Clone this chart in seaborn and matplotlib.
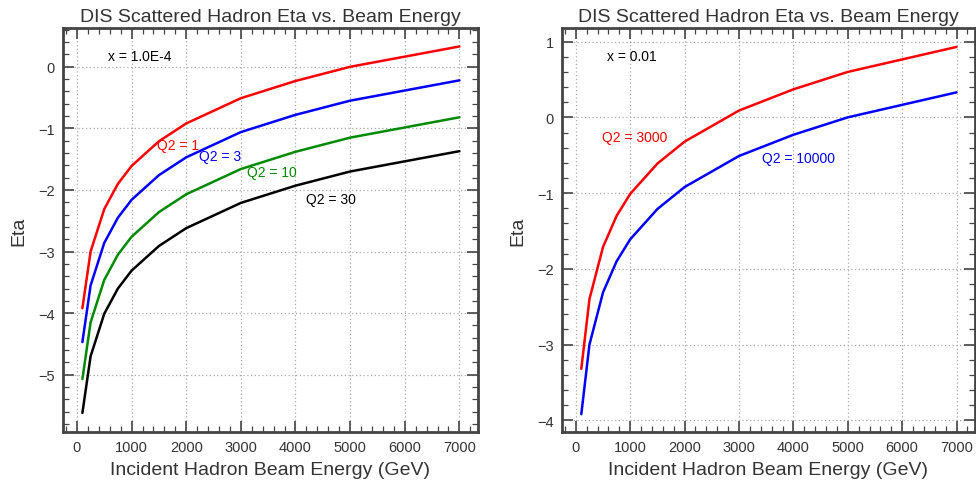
import numpy as np
import pandas as pd
import matplotlib
matplotlib.use("Agg")
import matplotlib.pyplot as plt
import seaborn as sns
from matplotlib.ticker import MultipleLocator

# Beam energies (GeV)
energy = [100, 250, 500, 750, 1000, 1500, 2000, 3000, 4000, 5000, 7000]

# x = 1.0E-4 panel
eta_q2_1 = [-3.92, -3.00, -2.31, -1.90, -1.61, -1.21, -0.92, -0.51, -0.23, 0.00, 0.33]
eta_q2_3 = [-4.47, -3.55, -2.86, -2.45, -2.16, -1.76, -1.47, -1.06, -0.78, -0.55, -0.22]
eta_q2_10 = [-5.07, -4.15, -3.46, -3.05, -2.76, -2.36, -2.07, -1.66, -1.38, -1.15, -0.82]
eta_q2_30 = [-5.62, -4.70, -4.01, -3.60, -3.31, -2.91, -2.62, -2.21, -1.93, -1.70, -1.37]

# x = 0.01 panel
eta_q2_3000 = [-3.32, -2.40, -1.71, -1.30, -1.01, -0.61, -0.32, 0.09, 0.37, 0.60, 0.93]
eta_q2_10000 = [-3.92, -3.00, -2.31, -1.90, -1.61, -1.21, -0.92, -0.51, -0.23, 0.00, 0.33]

left_labels = ["Q2 = 1", "Q2 = 3", "Q2 = 10", "Q2 = 30"]
right_labels = ["Q2 = 3000", "Q2 = 10000"]

def long_df(series, labels):
    rows = []
    for lab, vals in zip(labels, series):
        for e, v in zip(energy, vals):
            rows.append({"E": e, "eta": v, "series": lab})
    return pd.DataFrame(rows)

df_left = long_df([eta_q2_1, eta_q2_3, eta_q2_10, eta_q2_30], left_labels)
df_right = long_df([eta_q2_3000, eta_q2_10000], right_labels)

sns.set_style("ticks")
plt.rcParams['font.family'] = ['Liberation Sans', 'DejaVu Sans']

fig = plt.figure(figsize=(9.76, 4.89), dpi=100)
ax1 = fig.add_axes([63/976, 56/489, 415/976, 404/489])
ax2 = fig.add_axes([562/976, 56/489, 413/976, 404/489])

green = "#008a00"
pal_left = {"Q2 = 1": "#ff0000", "Q2 = 3": "#0000ff", "Q2 = 10": green, "Q2 = 30": "#000000"}
pal_right = {"Q2 = 3000": "#ff0000", "Q2 = 10000": "#0000ff"}

sns.lineplot(data=df_left, x="E", y="eta", hue="series", palette=pal_left,
             ax=ax1, linewidth=1.8, legend=False)
sns.lineplot(data=df_right, x="E", y="eta", hue="series", palette=pal_right,
             ax=ax2, linewidth=1.8, legend=False)

frame = "#444444"
for ax, ylim in [(ax1, (-5.93, 0.63)), (ax2, (-4.155, 1.18))]:
    ax.set_xlim(-255, 7340)
    ax.set_ylim(*ylim)
    ax.xaxis.set_major_locator(MultipleLocator(1000))
    ax.xaxis.set_minor_locator(MultipleLocator(200))
    ax.yaxis.set_major_locator(MultipleLocator(1))
    ax.yaxis.set_minor_locator(MultipleLocator(0.2))
    ax.tick_params(which="both", direction="in", top=True, right=True,
                   color=frame, labelsize=10.5, labelcolor="#333333", pad=6)
    ax.tick_params(which="major", length=8, width=1.2)
    ax.tick_params(which="minor", length=4, width=0.9)
    ax.grid(True, which="major", linestyle=(0, (1, 2)), color="#aaaaaa", linewidth=0.9)
    for sp in ax.spines.values():
        sp.set_color(frame)
        sp.set_linewidth(2)
    ax.set_xlabel("Incident Hadron Beam Energy (GeV)", fontsize=14, color="#333333", labelpad=5)
    ax.set_ylabel("Eta", fontsize=14, color="#333333", labelpad=8)
    ax.set_title("DIS Scattered Hadron Eta vs. Beam Energy", fontsize=14, color="#333333", pad=5)

ax1.text(568, 0.18, "x = 1.0E-4", fontsize=10, color="black", va="center")
ax1.text(1465, -1.27, "Q2 = 1", fontsize=10, color="#ff0000", va="center")
ax1.text(2235, -1.45, "Q2 = 3", fontsize=10, color="#0000ff", va="center")
ax1.text(3114, -1.71, "Q2 = 10", fontsize=10, color=green, va="center")
ax1.text(4194, -2.14, "Q2 = 30", fontsize=10, color="black", va="center")

ax2.text(570, 0.81, "x = 0.01", fontsize=10, color="black", va="center")
ax2.text(483, -0.26, "Q2 = 3000", fontsize=10, color="#ff0000", va="center")
ax2.text(3432, -0.54, "Q2 = 10000", fontsize=10, color="#0000ff", va="center")

fig.savefig("out.png", dpi=100)
